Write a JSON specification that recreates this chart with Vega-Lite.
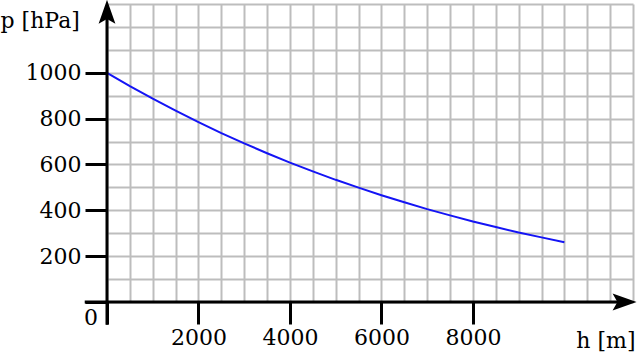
{
  "$schema": "https://vega.github.io/schema/vega-lite/v6.json",
  "width": 526,
  "height": 298,
  "autosize": {"type": "none"},
  "padding": {"left": 107, "top": 4, "right": 7, "bottom": 53},
  "background": "white",
  "config": {"view": {"stroke": null}, "font": "DejaVu Serif"},
  "datasets": {
    "curve": [
      {"h": 0, "p": 1000}, {"h": 500, "p": 942}, {"h": 1000, "p": 887}, {"h": 1500, "p": 835},
      {"h": 2000, "p": 785}, {"h": 2500, "p": 737}, {"h": 3000, "p": 692}, {"h": 3500, "p": 649},
      {"h": 4000, "p": 608}, {"h": 4500, "p": 570}, {"h": 5000, "p": 533}, {"h": 5500, "p": 499},
      {"h": 6000, "p": 466}, {"h": 6500, "p": 435}, {"h": 7000, "p": 405}, {"h": 7500, "p": 378},
      {"h": 8000, "p": 351}, {"h": 8500, "p": 327}, {"h": 9000, "p": 303}, {"h": 9500, "p": 282},
      {"h": 10000, "p": 261}
    ],
    "xaxis": [{"h": -487, "p": 0, "h2": 11300}],
    "yaxis": [{"h": 0, "p": -99, "p2": 1255}],
    "xarrow": [{"h": 11316, "p": 0}],
    "yarrow": [{"h": 0, "p": 1266}],
    "origin": [{"h": 0, "p": 0, "t": "0"}]
  },
  "layer": [
    {
      "data": {"name": "curve"},
      "mark": {"type": "line", "color": "#1414f5", "strokeWidth": 2},
      "encoding": {
        "x": {
          "field": "h", "type": "quantitative",
          "scale": {"domain": [0, 11500], "nice": false, "zero": false},
          "axis": {
            "tickCount": 23,
            "format": "d",
            "grid": true, "gridColor": "#bdbdbd", "gridWidth": 2,
            "domain": false,
            "ticks": true, "tickSize": 22, "tickWidth": 3, "tickColor": "black",
            "tickOpacity": {"condition": {"test": "datum.value <= 8000 && datum.value % 2000 == 0", "value": 1}, "value": 0},
            "labelExpr": "(datum.value > 0 && datum.value <= 8000 && datum.value % 2000 == 0) ? datum.label : ''",
            "labelFont": "DejaVu Serif", "labelFontSize": 22, "labelColor": "black",
            "labelPadding": 3, "labelFlush": false, "labelOverlap": false,
            "title": "h [m]", "titleFont": "DejaVu Serif", "titleFontSize": 22, "titleFontWeight": "normal",
            "titleColor": "black", "titleAlign": "right", "titleBaseline": "alphabetic",
            "titleX": 528, "titleY": 45, "titleAnchor": null
          }
        },
        "y": {
          "field": "p", "type": "quantitative",
          "scale": {"domain": [0, 1300], "nice": false, "zero": false},
          "axis": {
            "tickCount": 13,
            "format": "d",
            "grid": true, "gridColor": "#bdbdbd", "gridWidth": 2,
            "domain": false,
            "ticks": true, "tickSize": 22, "tickWidth": 3, "tickColor": "black",
            "tickOpacity": {"condition": {"test": "datum.value <= 1000 && datum.value % 200 == 0", "value": 1}, "value": 0},
            "labelExpr": "(datum.value > 0 && datum.value <= 1000 && datum.value % 200 == 0) ? datum.label : ''",
            "labelFont": "DejaVu Serif", "labelFontSize": 22, "labelColor": "black",
            "labelPadding": 4, "labelFlush": false, "labelOverlap": false,
            "title": "p [hPa]", "titleFont": "DejaVu Serif", "titleFontSize": 22, "titleFontWeight": "normal",
            "titleColor": "black", "titleAngle": 0, "titleAlign": "left", "titleBaseline": "alphabetic",
            "titleX": -107, "titleY": 23, "titleAnchor": null
          }
        }
      }
    },
    {
      "data": {"name": "xaxis"},
      "mark": {"type": "rule", "color": "black", "strokeWidth": 3},
      "encoding": {
        "x": {"field": "h", "type": "quantitative"},
        "x2": {"field": "h2"},
        "y": {"field": "p", "type": "quantitative"}
      }
    },
    {
      "data": {"name": "yaxis"},
      "mark": {"type": "rule", "color": "black", "strokeWidth": 3},
      "encoding": {
        "x": {"field": "h", "type": "quantitative"},
        "y": {"field": "p", "type": "quantitative"},
        "y2": {"field": "p2"}
      }
    },
    {
      "data": {"name": "xarrow"},
      "mark": {"type": "point", "shape": "M1,0 L-1,0.7 L-0.6,0 L-1,-0.7 Z", "size": 576, "filled": true, "color": "black", "opacity": 1},
      "encoding": {
        "x": {"field": "h", "type": "quantitative"},
        "y": {"field": "p", "type": "quantitative"}
      }
    },
    {
      "data": {"name": "yarrow"},
      "mark": {"type": "point", "shape": "M0,-1 L0.7,1 L0,0.6 L-0.7,1 Z", "size": 576, "filled": true, "color": "black", "opacity": 1},
      "encoding": {
        "x": {"field": "h", "type": "quantitative"},
        "y": {"field": "p", "type": "quantitative"}
      }
    },
    {
      "data": {"name": "origin"},
      "mark": {"type": "text", "font": "DejaVu Serif", "fontSize": 22, "color": "black", "align": "center", "baseline": "alphabetic", "dx": -16, "dy": 23},
      "encoding": {
        "x": {"field": "h", "type": "quantitative"},
        "y": {"field": "p", "type": "quantitative"},
        "text": {"field": "t"}
      }
    }
  ]
}
